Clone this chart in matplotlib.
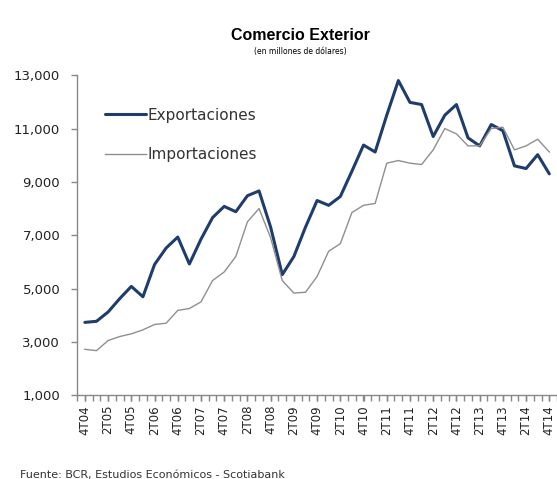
import numpy as np
import matplotlib
matplotlib.use("Agg")
import matplotlib.pyplot as plt

# trimestres 4T04 .. 4T14
quarters = ['4T04', '1T05', '2T05', '3T05', '4T05', '1T06', '2T06', '3T06', '4T06',
            '1T07', '2T07', '3T07', '4T07', '1T08', '2T08', '3T08', '4T08',
            '1T09', '2T09', '3T09', '4T09', '1T10', '2T10', '3T10', '4T10',
            '1T11', '2T11', '3T11', '4T11', '1T12', '2T12', '3T12', '4T12',
            '1T13', '2T13', '3T13', '4T13', '1T14', '2T14', '3T14', '4T14']

exportaciones = [3730, 3770, 4120, 4620, 5080, 4690, 5900, 6520, 6930,
                 5920, 6850, 7660, 8080, 7880, 8480, 8660, 7300,
                 5520, 6200, 7300, 8300, 8120, 8450, 9400, 10380,
                 10120, 11500, 12800, 11980, 11900, 10700, 11500, 11900,
                 10650, 10350, 11150, 10920, 9600, 9500, 10020, 9300]

importaciones = [2720, 2670, 3050, 3200, 3300, 3450, 3650, 3700, 4180,
                 4250, 4500, 5300, 5620, 6200, 7500, 8000, 6900,
                 5300, 4830, 4860, 5450, 6400, 6680, 7850, 8120,
                 8190, 9700, 9800, 9700, 9650, 10200, 11000, 10800,
                 10350, 10350, 11000, 11050, 10200, 10350, 10600, 10120]

tick_labels = quarters[::2]
y_ticks = [1000, 3000, 5000, 7000, 9000, 11000, 13000]

plt.rcParams['font.family'] = ['DejaVu Sans']

fig = plt.figure(figsize=(5.57, 4.79), dpi=100)
ax = fig.add_axes([0.138, 0.175, 0.862, 0.668])

x = np.arange(len(quarters))
ax.plot(x, exportaciones, color='#1f3d6c', lw=2.2, solid_joinstyle='round',
        solid_capstyle='round', label='Exportaciones')
ax.plot(x, importaciones, color='#8f8f8f', lw=1.0, label='Importaciones')

ax.set_xlim(-0.69, 40.65)
ax.set_ylim(1000, 13000)
ax.set_yticks(y_ticks)
ax.set_yticklabels(['{:,}'.format(v) for v in y_ticks], fontsize=9.5, color='#222222')
ax.set_xticks(x[::2])
ax.set_xticklabels(tick_labels, rotation=90, fontsize=8.5, color='#222222')
ax.set_xticks(np.arange(-0.67, 40.7, 2 / 3), minor=True)

for s in ['top', 'right']:
    ax.spines[s].set_visible(False)
for s in ['left', 'bottom']:
    ax.spines[s].set_color('#888888')
    ax.spines[s].set_linewidth(1.0)
ax.tick_params(axis='both', which='both', direction='out', length=4, color='#888888', width=1)
ax.tick_params(axis='y', pad=8)
ax.tick_params(axis='x', pad=3)

leg = ax.legend(loc='upper left', bbox_to_anchor=(0.058, 0.898), frameon=False,
                borderpad=0, borderaxespad=0, handlelength=2.7, handletextpad=0.1,
                labelspacing=1.6, fontsize=11)
for t in leg.get_texts():
    t.set_color('#333333')

fig.text(0.54, 0.925, 'Comercio Exterior', ha='center', va='center', fontsize=11.5,
         fontweight='bold', family=['Liberation Sans Narrow', 'Liberation Sans'])
fig.text(0.54, 0.893, '(en millones de dólares)', ha='center', va='center', fontsize=5.5)
fig.text(0.036, 0.018, 'Fuente: BCR, Estudios Económicos - Scotiabank', ha='left', va='top',
         fontsize=8, color='#333333')

fig.savefig('out.png', dpi=100)
